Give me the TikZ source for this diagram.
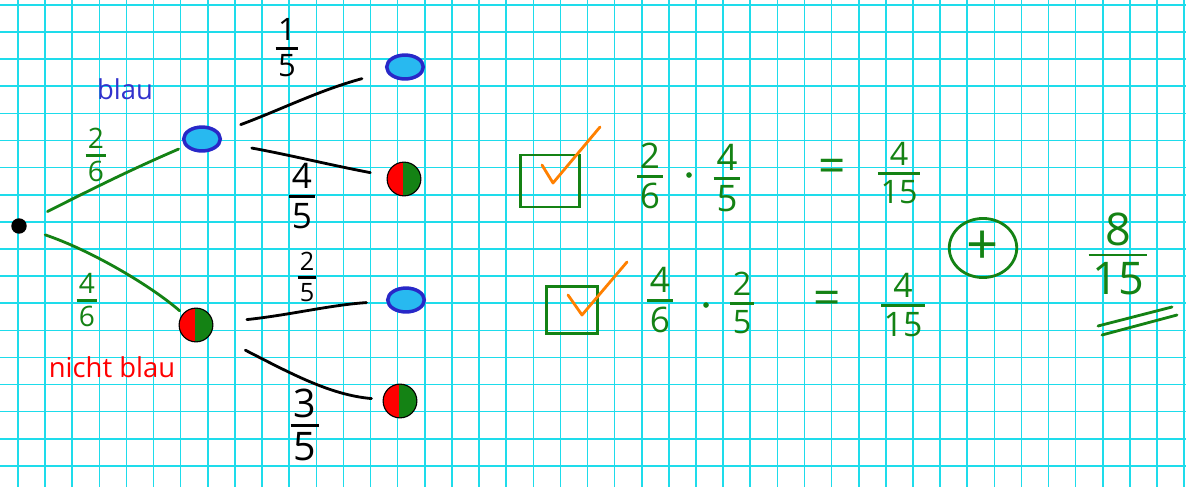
\documentclass[tikz,border=0pt]{standalone}
\usepackage{amsmath}
\usepackage{fontspec}
\setmainfont{Open Sans}
\usetikzlibrary{positioning, shapes.geometric}

\definecolor{gitter}{RGB}{30,220,235}
\definecolor{stift}{RGB}{20,130,20}
\definecolor{blaustift}{RGB}{50,50,205}
\definecolor{kugelblau}{RGB}{40,40,200}
\definecolor{kugelhell}{RGB}{40,185,240}
\definecolor{haken}{RGB}{255,128,0}

\newcommand{\bruch}[2]{$\genfrac{}{}{1.8pt}{1}{\mbox{\rule[-0.12em]{0pt}{0pt}\hspace{0.08em}#1\hspace{0.08em}}}{\mbox{\rule{0pt}{0.8em}\hspace{0.08em}#2\hspace{0.08em}}}$}

\begin{document}
\begin{tikzpicture}[x=0.025cm, y=-0.025cm,
                    gridline/.style={gitter, line width=1.1pt},
                    ast/.style={line width=2pt, line cap=round},
                    punkt/.style={circle, fill=black, minimum size=11pt, inner sep=0pt},
                    blaukugel/.style={ellipse, draw=kugelblau, line width=2.5pt, fill=kugelhell, minimum width=26pt, minimum height=17pt, inner sep=0pt},
                    rotgruen/.style={circle, draw=black, line width=0.8pt, fill=stift, minimum size=24pt, inner sep=0pt,
                        path picture={\fill[red] (path picture bounding box.south west) rectangle ([xshift=-1pt]path picture bounding box.north);}},
                    zahl/.style={text=#1, inner sep=0pt},
                    gross/.style={font=\fontsize{#1}{#1}\selectfont},
                    kasten/.style={draw=stift, line width=2pt, rectangle, inner sep=0pt},
                    hakenlinie/.style={haken, line width=2pt, line cap=round, line join=round}
                ]
                \useasboundingbox[fill=white] (0,0) rectangle (1186,487);
                \foreach \i in {0,...,43}
                    \draw[gridline] (18+27.12*\i,0) -- (18+27.12*\i,487);
                \foreach \j in {0,...,17}
                    \draw[gridline] (0,4.9+27.12*\j) -- (1186,4.9+27.12*\j);

                % tree
                \node[punkt] (wurzel) at (19,226) {};
                \node[blaukugel] (b) at (202,139) {};
                \node[rotgruen] (nb) at (196,325) {};
                \node[blaukugel] (bb) at (405,67) {};
                \node[rotgruen] (bn) at (404,179) {};
                \node[blaukugel] (nbb) at (406,300) {};
                \node[rotgruen] (nbn) at (400,401) {};

                \draw[ast, stift, shorten <=17pt, shorten >=5pt] (wurzel) .. controls (90,190) and (130,170) .. (b);
                \draw[ast, stift, shorten <=14pt, shorten >=3pt] (wurzel) .. controls (90,250) and (150,285) .. (nb);
                \draw[ast, shorten <=16pt, shorten >=18pt] (b) .. controls (280,110) and (320,90) .. (bb);
                \draw[ast, shorten <=22pt, shorten >=12pt] (b) .. controls (290,155) and (330,165) .. (bn);
                \draw[ast, shorten <=24pt, shorten >=14pt] (nb) .. controls (290,315) and (330,305) .. (nbb);
                \draw[ast, shorten <=27pt, shorten >=8pt] (nb) .. controls (290,373) and (330,395) .. (nbn);

                \node[zahl=blaustift, font=\fontsize{19.5}{20}\selectfont] (lblau) at (125,89) {blau};
                \node[zahl=red, font=\fontsize{19.5}{20}\selectfont] (lnblau) at (112,367) {nicht blau};

                \node[zahl=stift, gross=20] (p26) at (96,155) {\bruch{2}{6}};
                \node[zahl=stift, gross=20] (p46) at (87,300) {\bruch{4}{6}};
                \node[zahl=black, gross=22] (p15) at (287,48) {\bruch{1}{5}};
                \node[zahl=black, gross=25] (p45) at (302,196) {\bruch{4}{5}};
                \node[zahl=black, gross=18] (p25) at (307,277) {\bruch{2}{5}};
                \node[zahl=black, gross=28] (p35) at (305,425) {\bruch{3}{5}};

                % calculation
                \node[kasten, minimum width=42pt, minimum height=37pt] (k1) at (550,181) {};
                \draw[hakenlinie] ([shift={(-8,-16)}]k1.center) -- ([shift={(3,2)}]k1.center) -- ([shift={(50,-54)}]k1.center);
                \node[zahl=stift, gross=25] (r1a) at (650,176) {\bruch{2}{6}};
                \node[circle, fill=stift, minimum size=4pt, inner sep=0pt] (d1) at (689,175) {};
                \node[zahl=stift, gross=26] (r1b) at (727,178) {\bruch{4}{5}};
                \node[zahl=stift, gross=34] (g1) at (832,171) {=};
                \node[zahl=stift, gross=23] (r1c) at (899,173) {\bruch{4}{15}};

                \node[kasten, minimum width=36pt, minimum height=33pt] (k2) at (572,310) {};
                \draw[hakenlinie] ([shift={(-4,-15)}]k2.center) -- ([shift={(10,5)}]k2.center) -- ([shift={(55,-48)}]k2.center);
                \node[zahl=stift, gross=25] (r2a) at (660,300) {\bruch{4}{6}};
                \node[circle, fill=stift, minimum size=4pt, inner sep=0pt] (d2) at (706,305) {};
                \node[zahl=stift, gross=23] (r2b) at (742,303) {\bruch{2}{5}};
                \node[zahl=stift, gross=34] (g2) at (827,303) {=};
                \node[zahl=stift, gross=24] (r2c) at (903,305) {\bruch{4}{15}};

                \node[ellipse, draw=stift, line width=2pt, text=stift, font=\fontsize{40}{40}\selectfont, minimum width=48pt, minimum height=42pt, inner sep=0pt] (plus) at (983,248) {+};
                \node[zahl=stift, gross=32] (erg) at (1118,254) {\bruch{8}{15}};
                \draw[ast, stift] ([shift={(-20,72)}]erg.center) -- ([shift={(54,53)}]erg.center);
                \draw[ast, stift] ([shift={(-16,81)}]erg.center) -- ([shift={(59,61)}]erg.center);
\end{tikzpicture}
\end{document}
